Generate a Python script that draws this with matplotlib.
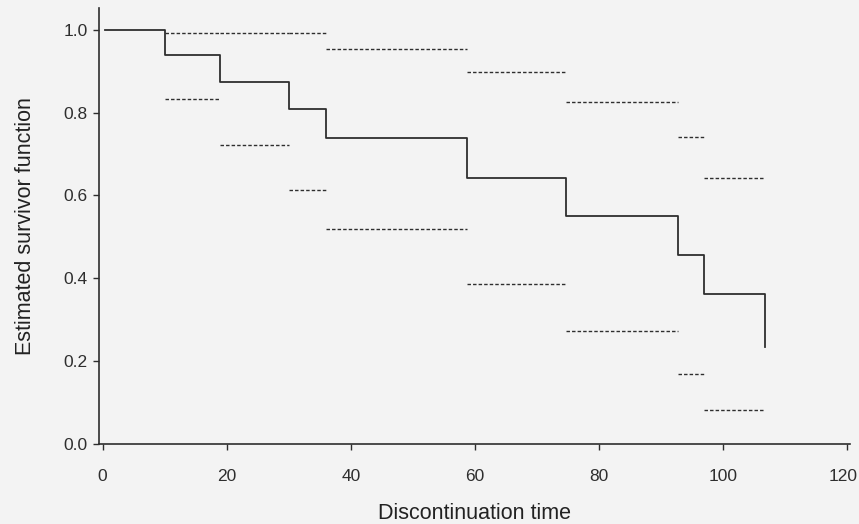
import matplotlib
matplotlib.use('Agg')
import matplotlib.pyplot as plt
from matplotlib.transforms import ScaledTranslation

# Kaplan-Meier estimate
step_times = [0, 10, 19, 30, 36, 58.7, 74.7, 92.7, 96.9, 106.7]
survival = [1.0, 0.939, 0.874, 0.808, 0.739, 0.642, 0.550, 0.455, 0.363, 0.234]

# pointwise confidence limits, one per interval between steps
ci_start = [10, 19, 30, 36, 58.7, 74.7, 92.7, 96.9]
ci_end = [19, 30, 36, 58.7, 74.7, 92.7, 96.9, 106.7]
ci_upper = [0.992, 0.992, 0.992, 0.954, 0.899, 0.826, 0.742, 0.642]
ci_lower = [0.833, 0.721, 0.613, 0.519, 0.387, 0.272, 0.169, 0.082]

xticks = [0, 20, 40, 60, 80, 100, 120]
yticks = [0.0, 0.2, 0.4, 0.6, 0.8, 1.0]

plt.rcParams['font.family'] = ['Liberation Sans', 'DejaVu Sans']
ink = '#2e2e2e'

fig = plt.figure(figsize=(8.59, 5.24), dpi=100)
fig.patch.set_facecolor('#f3f3f3')
ax = fig.add_axes([0.115, 0.153, 0.875, 0.832])
ax.set_facecolor('#f3f3f3')

# step curve, dropping vertically at the last time
xs = [0.4]
ys = [survival[0]]
for i in range(1, len(step_times)):
    xs += [step_times[i], step_times[i]]
    ys += [survival[i - 1], survival[i]]
ax.plot(xs, ys, color=ink, lw=1.3)

for s, e, u, l in zip(ci_start, ci_end, ci_upper, ci_lower):
    ax.plot([s, e], [u, u], color=ink, lw=1.0, dashes=(2.5, 1.5))
    ax.plot([s, e], [l, l], color=ink, lw=1.0, dashes=(2.5, 1.5))

ax.set_xlim(-0.6, 120.5)
ax.set_ylim(0, 1.053)
ax.set_xticks(xticks)
ax.set_yticks(yticks)
ax.set_yticklabels(['%.1f' % v for v in yticks])
ax.spines['top'].set_visible(False)
ax.spines['right'].set_visible(False)
for sp in ['left', 'bottom']:
    ax.spines[sp].set_color(ink)
    ax.spines[sp].set_linewidth(1.2)
ax.tick_params(colors=ink, labelsize=12.5, length=4, width=1, pad=4)
ax.tick_params(axis='x', pad=14)

# the last label sits right at the page edge; nudge it in a little
last = ax.get_xticklabels()[-1]
last.set_transform(last.get_transform() + ScaledTranslation(-4 / 100, 0, fig.dpi_scale_trans))

ax.set_xlabel('Discontinuation time', fontsize=15.5, color='#222222', labelpad=14)
ax.set_ylabel('Estimated survivor function', fontsize=15.5, color='#222222', labelpad=20)

fig.savefig('out.png', dpi=100, facecolor=fig.get_facecolor())
